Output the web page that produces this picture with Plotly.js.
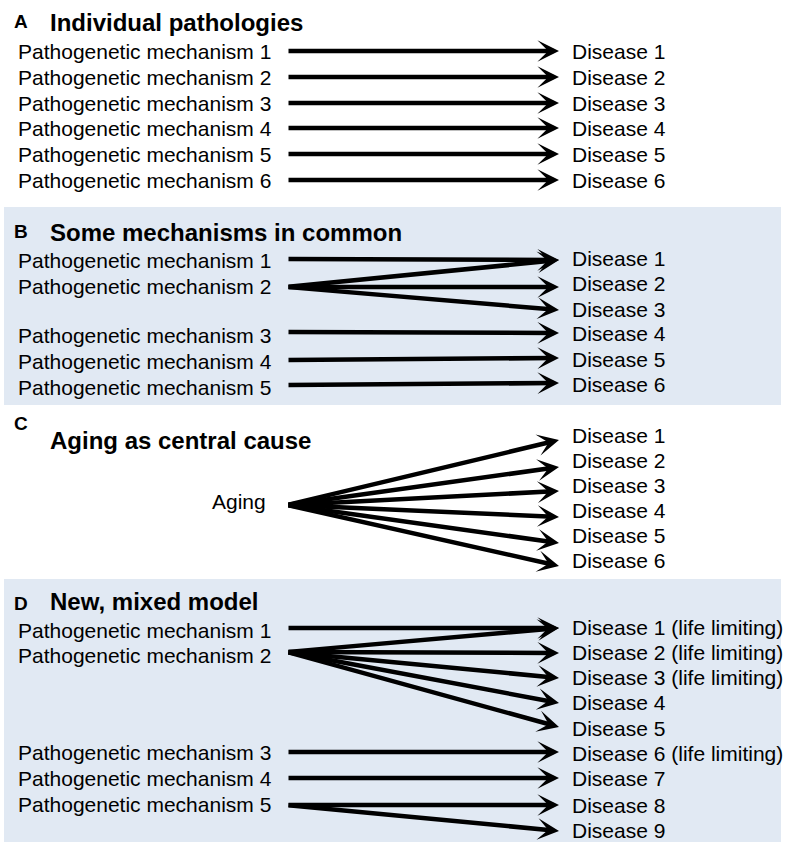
<!DOCTYPE html>
<html><head><meta charset="utf-8">
<script src="https://cdn.plot.ly/plotly-3.0.1.min.js"></script>
<style>html,body{margin:0;padding:0;background:#fff}#chart{width:787px;height:842px}</style>
</head><body><div id="chart"></div>
<script>
// ---- content ----
const panelLetters = ["A", "B", "C", "D"];
const panelTitles = ["Individual pathologies", "Some mechanisms in common", "Aging as central cause", "New, mixed model"];

const sourcesA = ["Pathogenetic mechanism 1","Pathogenetic mechanism 2","Pathogenetic mechanism 3","Pathogenetic mechanism 4","Pathogenetic mechanism 5","Pathogenetic mechanism 6"];
const targetsA = ["Disease 1","Disease 2","Disease 3","Disease 4","Disease 5","Disease 6"];
const edgesA = [[0,0],[1,1],[2,2],[3,3],[4,4],[5,5]];

const sourcesB = ["Pathogenetic mechanism 1","Pathogenetic mechanism 2","Pathogenetic mechanism 3","Pathogenetic mechanism 4","Pathogenetic mechanism 5"];
const targetsB = ["Disease 1","Disease 2","Disease 3","Disease 4","Disease 5","Disease 6"];
const edgesB = [[0,0],[1,0],[1,1],[1,2],[2,3],[3,4],[4,5]];

const sourcesC = ["Aging"];
const targetsC = ["Disease 1","Disease 2","Disease 3","Disease 4","Disease 5","Disease 6"];
const edgesC = [[0,0],[0,1],[0,2],[0,3],[0,4],[0,5]];

const sourcesD = ["Pathogenetic mechanism 1","Pathogenetic mechanism 2","Pathogenetic mechanism 3","Pathogenetic mechanism 4","Pathogenetic mechanism 5"];
const targetsD = ["Disease 1 (life limiting)","Disease 2 (life limiting)","Disease 3 (life limiting)","Disease 4","Disease 5","Disease 6 (life limiting)","Disease 7","Disease 8","Disease 9"];
const edgesD = [[0,0],[1,0],[1,1],[1,2],[1,3],[1,4],[2,5],[3,6],[4,7],[4,8]];

// ---- layout positions (pixel-like coordinates of the canvas) ----
const letterY = [21, 231, 423, 603];
const titleY  = [22, 232, 440, 601];
const srcTextY = [[51,77,103,128,154,180],[260,286,335,361,387],[501],[630,655,752,778,804]];
const srcLineY = [[51,77,103,128,154,180],[259,287,332,360,385],[505],[628,652,752,778,805]];
const tgtTextY = [[51,77,103,128,154,180],[258,283,309,333,359,384],[435,460,485,510,535,560],[627,652,677,702,728,753,778,805,830]];
const tgtTipY  = [[51,77,103,128,154,180],[260,287,310,333,358,383],[440,467,491,517,543,566],[628,653,678,703,727,752,778,805,831]];
const bgBands = [[207,405],[579,842]];

const panels = [
  {src: sourcesA, tgt: targetsA, edges: edgesA},
  {src: sourcesB, tgt: targetsB, edges: edgesB},
  {src: sourcesC, tgt: targetsC, edges: edgesC},
  {src: sourcesD, tgt: targetsD, edges: edgesD}
];

const FONT = "Liberation Sans, Arial, Helvetica, sans-serif";
const X_SRC_LEFT = 16, X_SRC_RIGHT = 268, X_LINE0 = 287, X_TIP = 559, X_TGT = 570;
const annotations = [];
const shapes = [];

bgBands.forEach(b => shapes.push({type:"rect", xref:"x", yref:"y", x0:4, x1:781, y0:b[0], y1:b[1], fillcolor:"#e1e9f3", line:{width:0}, layer:"below"}));

panels.forEach((p, i) => {
  annotations.push({x: 12, y: letterY[i], xref:"x", yref:"y", text:"<b>"+panelLetters[i]+"</b>", showarrow:false, xanchor:"left", yanchor:"middle", font:{family:FONT, size:19, color:"#000"}});
  annotations.push({x: 48, y: titleY[i], xref:"x", yref:"y", text:"<b>"+panelTitles[i]+"</b>", showarrow:false, xanchor:"left", yanchor:"middle", font:{family:FONT, size:24, color:"#000"}});
  p.src.forEach((s, j) => {
    const isAging = (i === 2);
    annotations.push({x: isAging ? X_SRC_RIGHT : X_SRC_LEFT, y: srcTextY[i][j], xref:"x", yref:"y", text:s, showarrow:false,
      xanchor: isAging ? "right" : "left", yanchor:"middle", font:{family:FONT, size:21, color:"#000"}});
  });
  p.tgt.forEach((t, k) => {
    annotations.push({x: X_TGT, y: tgtTextY[i][k], xref:"x", yref:"y", text:t, showarrow:false, xanchor:"left", yanchor:"middle", font:{family:FONT, size:21, color:"#000"}});
  });
  p.edges.forEach(e => {
    annotations.push({x: X_TIP, y: tgtTipY[i][e[1]], xref:"x", yref:"y", ax: X_LINE0, ay: srcLineY[i][e[0]], axref:"x", ayref:"y",
      text:"", showarrow:true, arrowhead:3, arrowsize:0.8, arrowwidth:4.5, arrowcolor:"#000", standoff:0, startstandoff:0});
  });
});

const layout = {
  width: 787, height: 842,
  margin: {l:0, r:0, t:0, b:0},
  paper_bgcolor: "#ffffff", plot_bgcolor: "rgba(0,0,0,0)",
  xaxis: {range:[0,787], visible:false, fixedrange:true},
  yaxis: {range:[842,0], visible:false, fixedrange:true},
  showlegend: false,
  annotations: annotations,
  shapes: shapes
};
Plotly.newPlot("chart", [{x:[], y:[], type:"scatter", mode:"markers", hoverinfo:"skip"}], layout, {staticPlot:true, displayModeBar:false});
</script></body></html>
